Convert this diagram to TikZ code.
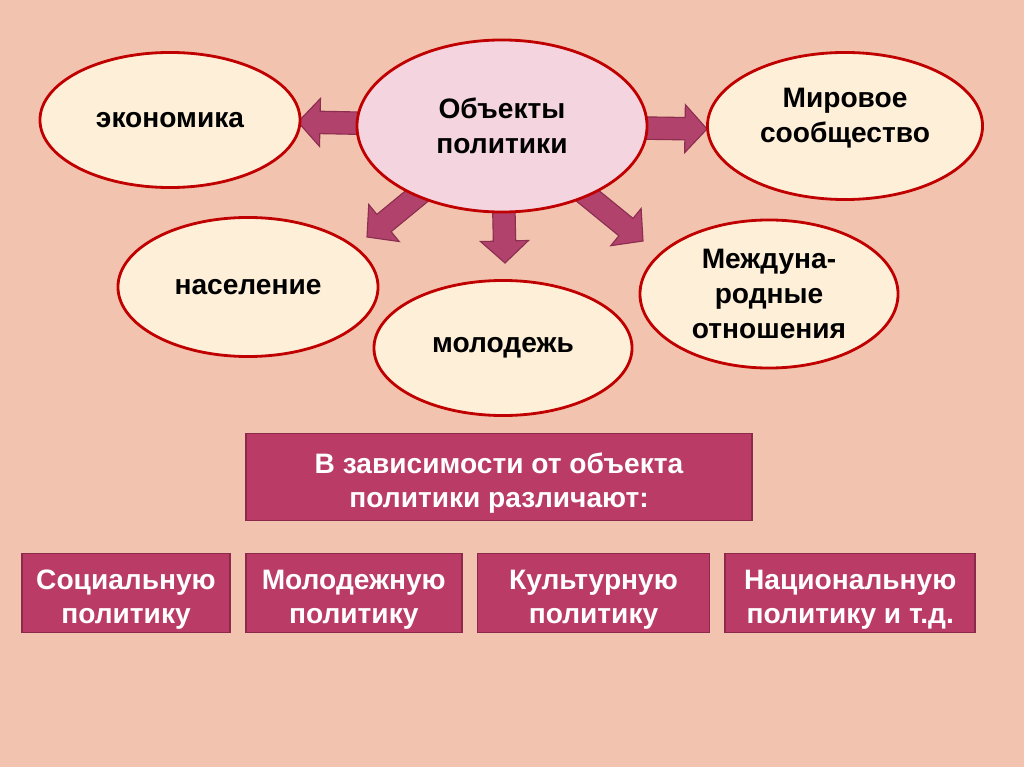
\documentclass[tikz,border=0pt]{standalone}
\usepackage{fontspec}
\setmainfont{Liberation Sans}
\usetikzlibrary{shapes,calc,positioning}
\definecolor{bgc}{HTML}{F2C3AE}
\definecolor{cream}{HTML}{FDEFD8}
\definecolor{pinkfill}{HTML}{F3D4DF}
\definecolor{ovalline}{HTML}{C00000}
\definecolor{boxfill}{HTML}{B93B66}
\definecolor{boxline}{HTML}{8C2A4B}
\definecolor{arrfill}{HTML}{B1426C}
\definecolor{arrline}{HTML}{8C2E50}
\pgfdeclarelayer{back}
\pgfsetlayers{back,main}
\tikzstyle{oval}=[draw=ovalline, line width=2pt, ellipse, fill=cream, inner sep=0pt,
align=center, font=\bfseries\fontsize{20}{25}\selectfont]
\tikzstyle{centre}=[oval, fill=pinkfill]
\tikzstyle{box}=[draw=boxline, line width=1.2pt, fill=boxfill, text=white, inner sep=0pt,
align=center, text height=47pt, font=\bfseries\fontsize{20}{24}\selectfont]
\tikzstyle{blockarr}=[draw=arrline, line width=0.8pt, fill=arrfill, line join=miter]
% block arrow from #1 with its tip at #2
\newcommand{\blockarrow}[2]{
  \coordinate (hb) at ($(#2)!0.55cm!(#1)$);
  \draw[blockarr] ($(#1)!0.28cm!90:(#2)$) -- ($(hb)!0.28cm!90:(#2)$)
    -- ($(hb)!0.6cm!90:(#2)$) -- (#2) -- ($(hb)!0.6cm!-90:(#2)$)
    -- ($(hb)!0.28cm!-90:(#2)$) -- ($(#1)!0.28cm!-90:(#2)$) -- cycle;
}

\begin{document}
\begin{tikzpicture}[x=0.025cm, y=-0.025cm]
    \begin{pgfonlayer}{back}
    \fill[bgc] (0,0) rectangle (1024,767);
    \end{pgfonlayer}
    \useasboundingbox (0,0) rectangle (1024,767);

    % objects of policy
    \node[centre, minimum width=7.25cm, minimum height=4.3cm] (obj) at (502,126) {Объекты\\политики};
    \node[oval, minimum width=6.5cm, minimum height=3.375cm] (eko) at (170,120) {экономика};
    \node[oval, minimum width=6.875cm, minimum height=3.675cm] (mir) at (845,126) {Мировое\\сообщество\\[-10pt]\mbox{}};
    \node[oval, minimum width=6.5cm, minimum height=3.475cm] (nas) at (248,287) {население};
    \node[oval, minimum width=6.45cm, minimum height=3.375cm] (mol) at (503,348) {молодежь};
    \node[oval, minimum width=6.45cm, minimum height=3.7cm] (mez) at (769,294) {Междуна-\\родные\\отношения};

    \coordinate (tipW) at (298,122);
    \coordinate (tipE) at (707,129);
    \coordinate (tipS) at (505,263);
    \coordinate (tipSW) at (367,237);
    \coordinate (tipSE) at (643,241);
    \begin{pgfonlayer}{back}
    \blockarrow{obj.center}{tipW}
    \blockarrow{obj.center}{tipE}
    \blockarrow{obj.center}{tipS}
    \blockarrow{obj.center}{tipSW}
    \blockarrow{obj.center}{tipSE}
    \end{pgfonlayer}

    % kinds of policy
    \node[box, minimum width=12.65cm, minimum height=2.175cm] (kind) at (499,477) {В зависимости от объекта\\политики различают:};
    \node[box, minimum width=5.2cm, minimum height=1.975cm] (soc) at (126,593) {Социальную\\политику};
    \node[box, minimum width=5.4cm, minimum height=1.975cm, right=0.35cm of soc] (youth) {Молодежную\\политику};
    \node[box, minimum width=5.8cm, minimum height=1.975cm, right=0.35cm of youth] (cult) {Культурную\\политику};
    \node[box, minimum width=6.25cm, minimum height=1.975cm, right=0.35cm of cult] (nat) {Национальную\\политику и т.д.};
\end{tikzpicture}
\end{document}
